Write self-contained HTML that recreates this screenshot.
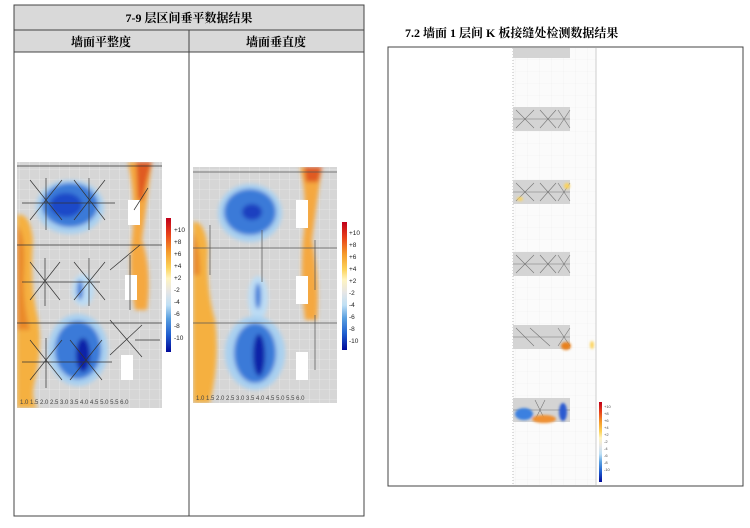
<!DOCTYPE html>
<html><head><meta charset="utf-8"><style>
body{margin:0;background:#fff;width:750px;height:528px;overflow:hidden;font-family:"Liberation Serif","Noto Serif CJK SC",serif}
</style></head><body>
<svg width="750" height="528" viewBox="0 0 750 528" xmlns="http://www.w3.org/2000/svg" style="position:absolute;left:0;top:0">
<defs>
<filter id="b" x="-30%" y="-30%" width="160%" height="160%"><feGaussianBlur stdDeviation="2"/></filter>
<filter id="b2" x="-30%" y="-30%" width="160%" height="160%"><feGaussianBlur stdDeviation="1.2"/></filter>
<clipPath id="c1"><rect x="17" y="162" width="145" height="246"/></clipPath>
<clipPath id="c2"><rect x="193" y="167" width="144" height="236"/></clipPath>
<linearGradient id="cb" x1="0" y1="0" x2="0" y2="1">
<stop offset="0" stop-color="#c0001a"/><stop offset="0.12" stop-color="#e8401a"/><stop offset="0.25" stop-color="#f59a2a"/><stop offset="0.37" stop-color="#fcd35a"/><stop offset="0.45" stop-color="#fff4c0"/><stop offset="0.55" stop-color="#e6e6e6"/><stop offset="0.65" stop-color="#bfe0f5"/><stop offset="0.75" stop-color="#5aa0e0"/><stop offset="0.87" stop-color="#2060d0"/><stop offset="1" stop-color="#000a9a"/>
</linearGradient>
<pattern id="g" width="10" height="10" patternUnits="userSpaceOnUse"><path d="M10 0V10M0 10H10" stroke="#f2f2f2" stroke-width="0.6" fill="none"/></pattern>
<pattern id="g2" width="12" height="12" patternUnits="userSpaceOnUse"><path d="M0 12H12M12 0V12" stroke="#eee" stroke-width="0.6" fill="none"/></pattern>
</defs>

<rect x="14" y="5" width="350" height="47" fill="#d9d9d9"/>
<rect x="14" y="5" width="350" height="511" fill="none" stroke="#444" stroke-width="1"/>
<line x1="14" y1="30" x2="364" y2="30" stroke="#444"/>
<line x1="14" y1="52" x2="364" y2="52" stroke="#444"/>
<line x1="189" y1="30" x2="189" y2="516" stroke="#444"/>
<text x="189" y="22" text-anchor="middle" font-size="12" font-weight="bold">7-9 层区间垂平数据结果</text>
<text x="101" y="46" text-anchor="middle" font-size="12" font-weight="bold">墙面平整度</text>
<text x="276" y="46" text-anchor="middle" font-size="12" font-weight="bold">墙面垂直度</text>

<g>
<rect x="17" y="162" width="145" height="246" fill="#d6d6d6"/>
<rect x="17" y="162" width="145" height="246" fill="url(#g)"/>
<g filter="url(#b)" clip-path="url(#c1)">
<path d="M17 215 Q30 212 33 240 Q30 280 36 310 Q44 340 35 380 Q30 400 38 408 L17 408 Z" fill="#f5b040"/>
<path d="M17 225 Q26 235 24 270 Q22 300 30 330 L17 330Z" fill="#ea8a2a"/>
<path d="M128 162 L152 162 Q147 200 142 240 Q152 270 147 310 L135 310 Q128 270 132 240 Q136 200 128 162Z" fill="#f5a840"/>
<path d="M136 162 L152 162 Q146 180 143 200 L138 200Z" fill="#e05a20"/>
<ellipse cx="70" cy="207" rx="34" ry="27" fill="#a9d0f0"/>
<ellipse cx="70" cy="205" rx="28" ry="22" fill="#3a7ad8"/>
<ellipse cx="66" cy="205" rx="16" ry="12" fill="#1a4ac8"/>
<ellipse cx="83" cy="290" rx="11" ry="16" fill="#bcdcf4"/>
<ellipse cx="80" cy="290" rx="3" ry="10" fill="#3a7ad8"/>
<ellipse cx="78" cy="350" rx="30" ry="36" fill="#a9d0f0"/>
<ellipse cx="78" cy="350" rx="23" ry="29" fill="#3a7ad8"/>
<ellipse cx="83" cy="355" rx="7" ry="17" fill="#0a20a8"/>
</g>
<rect x="128" y="200" width="12" height="25" fill="#fff"/>
<rect x="125" y="275" width="12" height="25" fill="#fff"/>
<rect x="121" y="355" width="12" height="25" fill="#fff"/>
<g stroke="#333" stroke-width="0.7" fill="none">
<line x1="17" y1="166" x2="162" y2="166"/><line x1="17" y1="245" x2="162" y2="245"/><line x1="17" y1="323" x2="162" y2="323"/>
<path d="M30 180 L62 220 M30 220 L62 180 M46 178 V230 M22 203 H115"/>
<path d="M74 180 L105 220 M74 220 L105 180 M89 178 V230"/>
<path d="M30 262 L60 300 M30 300 L60 262 M45 258 V306 M22 282 H100"/>
<path d="M74 262 L105 300 M74 300 L105 262 M89 258 V306"/>
<path d="M30 340 L62 380 M30 380 L62 340 M46 338 V388 M22 362 H112"/>
<path d="M70 340 L102 380 M70 380 L102 340"/>
<path d="M110 355 L142 325 M110 320 L142 357 M135 340 H160 M134 210 L148 188 M130 255 V310 M110 270 L140 245"/>
</g>
<g font-size="6" fill="#444" font-family="Liberation Sans,sans-serif"><text x="20" y="404">1.0 1.5 2.0 2.5 3.0 3.5 4.0 4.5 5.0 5.5 6.0</text></g>
<rect x="166" y="218" width="5" height="134" fill="url(#cb)"/>
<g font-size="6.5" fill="#222" font-family="Liberation Sans,sans-serif">
<text x="174" y="232">+10</text><text x="174" y="244">+8</text><text x="174" y="256">+6</text><text x="174" y="268">+4</text><text x="174" y="280">+2</text><text x="174" y="292">-2</text><text x="174" y="304">-4</text><text x="174" y="316">-6</text><text x="174" y="328">-8</text><text x="174" y="340">-10</text>
</g>
</g>

<g>
<rect x="193" y="167" width="144" height="236" fill="#d6d6d6"/>
<rect x="193" y="167" width="144" height="236" fill="url(#g)"/>
<g filter="url(#b)" clip-path="url(#c2)">
<path d="M193 222 Q205 220 208 250 Q206 290 215 320 Q220 360 210 403 L193 403Z" fill="#f5b040"/>
<path d="M193 232 Q200 245 200 275 L193 275Z" fill="#ea8a2a"/>
<path d="M300 167 L322 167 Q317 200 312 240 Q320 280 317 320 L305 320 Q300 280 303 240 Q308 200 300 167Z" fill="#f5a840"/>
<path d="M304 167 L322 167 L318 182 L306 182Z" fill="#e05a20"/>
<ellipse cx="250" cy="213" rx="32" ry="29" fill="#a9d0f0"/>
<ellipse cx="250" cy="212" rx="26" ry="23" fill="#3a7ad8"/>
<ellipse cx="252" cy="212" rx="10" ry="8" fill="#1a40c0"/>
<ellipse cx="258" cy="298" rx="10" ry="22" fill="#bcdcf4"/>
<ellipse cx="258" cy="296" rx="3" ry="13" fill="#3a7ad8"/>
<ellipse cx="255" cy="353" rx="30" ry="37" fill="#a9d0f0"/>
<ellipse cx="255" cy="353" rx="21" ry="30" fill="#3a7ad8"/>
<ellipse cx="259" cy="355" rx="6" ry="21" fill="#0a20a8"/>
</g>
<rect x="296" y="200" width="12" height="28" fill="#fff"/>
<rect x="296" y="276" width="12" height="28" fill="#fff"/>
<rect x="296" y="352" width="12" height="28" fill="#fff"/>
<g stroke="#555" stroke-width="0.7" fill="none">
<line x1="193" y1="172" x2="337" y2="172"/><line x1="193" y1="248" x2="337" y2="248"/><line x1="193" y1="323" x2="337" y2="323"/>
<path d="M210 225 V275 M262 230 V282 M315 240 V290 M315 315 V370"/>
</g>
<g font-size="6" fill="#444" font-family="Liberation Sans,sans-serif"><text x="196" y="400">1.0 1.5 2.0 2.5 3.0 3.5 4.0 4.5 5.0 5.5 6.0</text></g>
<rect x="342" y="222" width="5" height="128" fill="url(#cb)"/>
<g font-size="6.5" fill="#222" font-family="Liberation Sans,sans-serif">
<text x="349" y="235">+10</text><text x="349" y="247">+8</text><text x="349" y="259">+6</text><text x="349" y="271">+4</text><text x="349" y="283">+2</text><text x="349" y="295">-2</text><text x="349" y="307">-4</text><text x="349" y="319">-6</text><text x="349" y="331">-8</text><text x="349" y="343">-10</text>
</g>
</g>

<text x="405" y="37" font-size="12" font-weight="bold">7.2 墙面 1 层间 K 板接缝处检测数据结果</text>
<rect x="388" y="47" width="355" height="439" fill="#fff" stroke="#444" stroke-width="1"/>
<rect x="513" y="48" width="83" height="437" fill="#fbfbfb"/>
<rect x="513" y="48" width="83" height="437" fill="url(#g2)"/>
<line x1="513" y1="48" x2="513" y2="485" stroke="#bbb" stroke-dasharray="1 2"/>
<line x1="596" y1="48" x2="596" y2="485" stroke="#ccc"/>
<g fill="#d4d4d4">
<rect x="513" y="48" width="57" height="10"/>
<rect x="513" y="107" width="57" height="24"/>
<rect x="513" y="180" width="57" height="24"/>
<rect x="513" y="252" width="57" height="24"/>
<rect x="513" y="325" width="57" height="24"/>
<rect x="513" y="398" width="57" height="24"/>
</g>
<g stroke="#777" stroke-width="0.6" fill="none">
<path d="M513 119 H570 M516 110 L534 128 M516 128 L534 110 M540 110 L556 128 M540 128 L556 110 M558 110 L570 128 M558 128 L570 110"/>
<path d="M513 192 H570 M516 183 L534 201 M516 201 L534 183 M540 183 L556 201 M540 201 L556 183 M558 183 L570 201 M558 201 L570 183"/>
<path d="M513 264 H570 M516 255 L534 273 M516 273 L534 255 M540 255 L556 273 M540 273 L556 255 M558 255 L570 273 M558 273 L570 255"/>
<path d="M513 337 H570 M516 328 L534 346 M530 328 L550 346 M558 328 L570 346 M558 346 L570 328"/>
<path d="M513 410 H570 M535 400 L545 420 M545 400 L535 420"/>
</g>
<g filter="url(#b2)">
<ellipse cx="567" cy="186" rx="3" ry="3" fill="#fcd35a"/>
<ellipse cx="520" cy="199" rx="3" ry="2" fill="#fcd35a"/>
<ellipse cx="566" cy="346" rx="5" ry="4" fill="#e8801a"/>
<ellipse cx="592" cy="345" rx="2" ry="4" fill="#fcd35a"/>
<ellipse cx="524" cy="414" rx="9" ry="6" fill="#3a80e0"/>
<ellipse cx="544" cy="419" rx="12" ry="4" fill="#f09030"/>
<ellipse cx="563" cy="412" rx="4" ry="9" fill="#2a5ad0"/>
</g>
<rect x="599" y="402" width="3" height="80" fill="url(#cb)"/>
<g font-size="4" fill="#444" font-family="Liberation Sans,sans-serif">
<text x="604" y="408">+10</text><text x="604" y="415">+8</text><text x="604" y="422">+6</text><text x="604" y="429">+4</text><text x="604" y="436">+2</text><text x="604" y="443">-2</text><text x="604" y="450">-4</text><text x="604" y="457">-6</text><text x="604" y="464">-8</text><text x="604" y="471">-10</text>
</g>
</svg>
</body></html>
